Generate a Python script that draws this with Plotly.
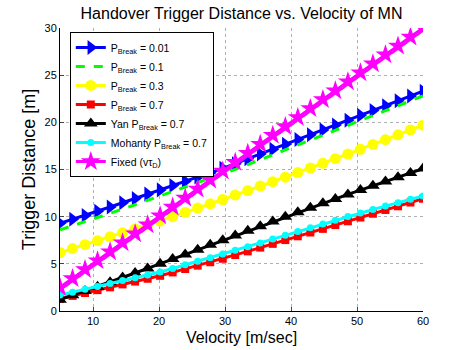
import plotly.graph_objects as go

velocity = [5.00, 6.90, 8.79, 10.69, 12.59, 14.48, 16.38, 18.28, 20.17, 22.07,
            23.97, 25.86, 27.76, 29.66, 31.55, 33.45, 35.34, 37.24, 39.14, 41.03,
            42.93, 44.83, 46.72, 48.62, 50.52, 52.41, 54.31, 56.21, 58.10, 60.00]

p_001 = [9.30, 9.72, 10.13, 10.57, 11.02, 11.48, 11.93, 12.39, 12.84, 13.30,
         13.75, 14.21, 14.66, 15.12, 15.62, 16.13, 16.64, 17.15, 17.67, 18.18,
         18.69, 19.20, 19.71, 20.23, 20.74, 21.25, 21.76, 22.28, 22.79, 23.30]
p_01 = [8.60, 9.03, 9.44, 9.88, 10.34, 10.80, 11.26, 11.72, 12.18, 12.65,
        13.10, 13.57, 14.03, 14.50, 15.01, 15.52, 16.04, 16.56, 17.08, 17.60,
        18.12, 18.64, 19.16, 19.69, 20.21, 20.73, 21.25, 21.78, 22.30, 22.80]
p_03 = [6.20, 6.62, 7.03, 7.45, 7.87, 8.29, 8.70, 9.12, 9.54, 10.00,
        10.45, 10.91, 11.36, 11.82, 12.29, 12.76, 13.24, 13.71, 14.19, 14.67,
        15.16, 15.66, 16.15, 16.64, 17.14, 17.65, 18.16, 18.68, 19.19, 19.70]
p_07 = [1.30, 1.60, 1.91, 2.21, 2.51, 2.82, 3.12, 3.42, 3.73, 4.09,
        4.45, 4.81, 5.17, 5.54, 5.93, 6.32, 6.72, 7.12, 7.52, 7.92,
        8.32, 8.71, 9.11, 9.51, 9.91, 10.31, 10.71, 11.10, 11.50, 11.90]
yan_07 = [1.20, 1.66, 2.11, 2.58, 3.06, 3.54, 4.03, 4.51, 5.00, 5.50,
          6.00, 6.50, 7.01, 7.51, 8.00, 8.50, 8.99, 9.48, 9.98, 10.46,
          10.94, 11.41, 11.88, 12.36, 12.82, 13.27, 13.73, 14.19, 14.64, 15.10]
mohanty_07 = [1.70, 2.00, 2.31, 2.61, 2.91, 3.22, 3.52, 3.82, 4.13, 4.51,
              4.89, 5.27, 5.65, 6.03, 6.43, 6.82, 7.22, 7.62, 8.02, 8.42,
              8.82, 9.22, 9.62, 10.02, 10.40, 10.76, 11.12, 11.48, 11.84, 12.20]
fixed = [2.50, 3.45, 4.40, 5.34, 6.29, 7.24, 8.19, 9.14, 10.09, 11.03,
         11.98, 12.93, 13.88, 14.83, 15.78, 16.72, 17.67, 18.62, 19.57, 20.52,
         21.47, 22.41, 23.36, 24.31, 25.26, 26.21, 27.16, 28.10, 29.05, 30.00]

x_ticks = [10, 20, 30, 40, 50, 60]
y_ticks = [0, 5, 10, 15, 20, 25, 30]

series = [
    ("P<sub>Break</sub> = 0.01", p_001, "#0000ff", "solid", "triangle-right", 13),
    ("P<sub>Break</sub> = 0.1", p_01, "#00ff00", "dash", None, 0),
    ("P<sub>Break</sub> = 0.3", p_03, "#ffff00", "solid", "circle", 11),
    ("P<sub>Break</sub> = 0.7", p_07, "#ff0000", "solid", "square", 8),
    ("Yan P<sub>Break</sub> = 0.7", yan_07, "#000000", "solid", "triangle-up", 12),
    ("Mohanty P<sub>Break</sub> = 0.7", mohanty_07, "#00ffff", "solid", "circle", 7),
    ("Fixed (vτ<sub>D</sub>)", fixed, "#ff00ff", "solid", "star", 15),
]

fig = go.Figure()
for name, vals, color, dash, symbol, size in series:
    if symbol is None:
        fig.add_trace(go.Scatter(x=velocity, y=vals, name=name, mode="lines",
                                 line=dict(color=color, width=3, dash=dash)))
    else:
        fig.add_trace(go.Scatter(x=velocity, y=vals, name=name, mode="lines+markers",
                                 line=dict(color=color, width=3, dash=dash),
                                 marker=dict(symbol=symbol, size=size, color=color)))

fig.update_layout(
    width=466, height=350,
    margin=dict(l=60, r=43, t=28, b=39),
    plot_bgcolor="white", paper_bgcolor="white",
    font=dict(family="Liberation Sans, Arial, sans-serif", color="black", size=11),
    title=dict(text="Handover Trigger Distance vs. Velocity of MN",
               x=0.5, xref="paper", xanchor="center",
               y=1 - 13 / 350, yanchor="middle", font=dict(size=16)),
    legend=dict(x=0.027, y=0.986, xanchor="left", yanchor="top",
                bgcolor="white", bordercolor="black", borderwidth=1,
                font=dict(size=10.5), tracegroupgap=0, itemwidth=30),
    showlegend=True,
)
fig.update_xaxes(range=[5, 60], tickvals=x_ticks, ticks="inside", ticklen=4,
                 showline=True, linecolor="black", linewidth=1, automargin=False,
                 showgrid=True, gridcolor="#b0b0b0", griddash="dot", gridwidth=1,
                 zeroline=False, title=dict(text="Velocity [m/sec]", font=dict(size=16), standoff=5))
fig.update_yaxes(range=[0, 30], tickvals=y_ticks, ticks="inside", ticklen=4,
                 showline=True, linecolor="black", linewidth=1, automargin=False,
                 showgrid=True, gridcolor="#b0b0b0", griddash="dot", gridwidth=1,
                 zeroline=False, title=dict(text="Trigger Distance [m]", font=dict(size=18), standoff=4))

fig.write_html("out.html", config={"displayModeBar": False},
               post_script="document.body.style.margin='0';")
